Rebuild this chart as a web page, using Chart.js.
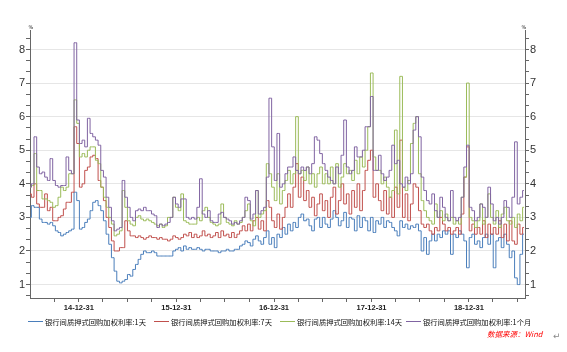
<!DOCTYPE html>
<html>
<head>
<meta charset="utf-8">
<script src="https://cdn.jsdelivr.net/npm/chart.js@4.4.0/dist/chart.umd.min.js"></script>
<style>
  html, body { margin: 0; padding: 0; background: #fff; }
</style>
</head>
<body>
<canvas id="grafico" width="567" height="352"></canvas>
<script>
// 10-day samples starting 2014-07-01
const startDate = Date.UTC(2014, 6, 1);
const stepDays = 10;
const axisDays = 1854;

const seriesNames = [
  "银行间质押式回购加权利率:1天",
  "银行间质押式回购加权利率:7天",
  "银行间质押式回购加权利率:14天",
  "银行间质押式回购加权利率:1个月"
];
const seriesColors = ["#4a7ebb", "#c0504d", "#9bbb59", "#8064a2"];

const yearEndDates = ["2014-12-31", "2015-12-31", "2016-12-31", "2017-12-31", "2018-12-31"];
const yearEndLabels = ["14-12-31", "15-12-31", "16-12-31", "17-12-31", "18-12-31"];
const minorTickDates = [
  "2014-09-30", "2015-03-31", "2015-06-30", "2015-09-30", "2016-03-31", "2016-06-30", "2016-09-30",
  "2017-03-31", "2017-06-30", "2017-09-30", "2018-03-31", "2018-06-30", "2018-09-30", "2019-03-31", "2019-06-30"
];

const rate1D = [
  3.0, 3.35, 3.3, 3.3, 2.95, 2.85, 2.85, 2.8, 2.85, 2.75,
  2.6, 2.55, 2.45, 2.5, 2.55, 2.6, 2.65, 3.75, 3.5, 2.65,
  2.7, 2.85, 2.95, 3.2, 3.45, 3.5, 3.35, 3.2, 2.9, 2.5,
  2.2, 1.8, 1.4, 1.1, 1.05, 1.1, 1.15, 1.3, 1.25, 1.45,
  1.6, 1.75, 1.9, 2.0, 1.95, 1.95, 2.0, 1.95, 1.85, 1.85,
  1.85, 1.85, 1.85, 1.85, 2.0, 2.05, 2.1, 2.0, 2.15, 2.05,
  2.1, 2.05, 2.05, 2.1, 2.05, 2.0, 2.05, 2.05, 2.0, 2.0,
  2.0, 1.95, 2.0, 2.0, 2.05, 2.0, 2.0, 2.05, 2.05, 2.15,
  2.2, 2.3, 2.25, 2.15, 2.35, 2.45, 2.3, 2.2, 2.4, 2.6,
  2.2, 2.4, 2.1, 2.5, 2.4, 2.7, 2.5, 2.8, 2.6, 2.85,
  2.7, 3.0, 3.1, 2.9, 2.95, 2.75, 2.6, 2.95, 3.0, 2.7,
  3.0, 2.8, 2.7, 2.95, 3.2, 3.0, 2.75, 2.9, 3.15, 2.7,
  3.0, 2.95, 2.6, 3.05, 2.7, 3.0, 2.9, 2.6, 3.0, 2.55,
  2.9, 2.8, 3.0, 2.7, 2.9, 2.85, 2.7, 2.6, 2.45, 2.9,
  2.7, 2.8, 2.65, 2.75, 2.7, 2.8, 2.6, 2.0, 2.4, 1.9,
  2.3, 2.5, 2.3, 2.5, 2.4, 2.6, 2.5, 2.6, 1.9, 2.5,
  2.4, 2.6, 2.5, 2.3, 1.5, 2.4, 2.5, 2.2, 2.3, 2.1,
  2.4, 2.5, 2.2, 2.5, 1.5, 2.3, 2.4, 2.1, 2.5, 2.2,
  1.8, 2.0, 1.2, 1.0, 1.9, 2.5
];

const rate7D = [
  3.7, 3.6, 4.0, 3.4, 3.3, 3.3, 3.7, 3.2, 3.3, 2.9,
  2.9, 3.0, 3.05, 3.25, 3.45, 3.45, 3.75, 5.7, 5.2, 3.9,
  4.0, 4.4, 4.5, 4.8, 4.85, 4.75, 4.1, 3.9, 3.5, 3.0,
  2.7, 2.3, 2.0, 2.0, 2.1, 2.1, 2.9, 2.6, 2.45, 2.45,
  2.4, 2.45, 2.4, 2.35, 2.4, 2.45, 2.4, 2.4, 2.35, 2.4,
  2.35, 2.35, 2.3, 2.35, 2.45, 2.4, 2.35, 2.4, 2.5, 2.45,
  2.55, 2.4, 2.5, 2.4, 2.45, 2.6, 2.45, 2.5, 2.4, 2.45,
  2.55, 2.4, 2.6, 2.45, 2.5, 2.4, 2.55, 2.4, 2.5, 2.6,
  2.75, 2.6, 2.8, 2.6, 2.9, 3.0, 2.65, 2.9, 2.6, 3.5,
  3.3, 2.9, 2.7, 3.1, 2.65, 3.0, 3.3, 3.7, 3.3, 3.9,
  4.6, 3.6, 4.2, 3.5, 3.8, 3.3, 3.6, 3.05, 3.4, 3.7,
  3.2, 3.5, 3.0, 3.6, 3.9, 3.1, 3.5, 4.0, 3.4, 3.7,
  3.1, 3.8, 3.3, 4.0, 3.2, 3.8, 4.4, 4.7, 5.0, 3.6,
  4.0, 3.5, 3.2, 3.8, 3.1, 3.6, 3.0, 3.9, 3.3, 5.3,
  3.0, 3.7, 2.9, 3.4, 4.0, 3.9, 3.2, 2.8, 2.7, 2.8,
  2.6, 2.5, 2.7, 2.6, 3.0, 2.8, 2.6, 2.7, 2.5, 2.6,
  2.7, 2.5, 3.1, 4.2, 5.1, 2.6, 2.8, 2.5, 2.7, 2.5,
  2.9, 2.4, 2.8, 2.5, 2.7, 2.5, 2.9, 2.4, 2.8, 2.3,
  2.9, 2.3, 2.2, 2.8, 2.5, 2.7
];

const rate14D = [
  3.9, 3.95, 4.9, 3.8, 3.8, 3.55, 3.55, 3.5, 3.45, 3.3,
  3.35, 3.6, 3.9, 3.8, 3.9, 4.3, 4.3, 6.5, 5.8, 4.8,
  4.9, 4.8, 5.0, 5.1, 5.1, 4.7, 4.6, 3.9, 3.6, 3.3,
  3.0, 2.8, 2.45, 2.5, 2.6, 3.8, 3.3, 2.9, 2.8, 2.75,
  3.0, 3.05, 2.95, 2.9, 2.95, 2.9, 2.85, 2.8, 2.75, 2.8,
  2.7, 2.75, 3.0, 3.0, 3.6, 3.3, 3.2, 3.7, 2.9, 2.85,
  2.8, 2.8, 2.8, 3.0, 2.9, 3.2, 3.3, 3.0, 2.85, 2.8,
  2.75, 2.8, 3.4, 3.0, 2.85, 2.8, 2.75, 2.9, 2.8, 2.85,
  3.0, 3.2, 3.4, 2.9, 2.75, 3.8, 3.0, 3.1, 3.2, 4.6,
  4.3, 3.9, 3.5, 4.3, 3.4, 3.8, 4.1, 4.4, 4.0, 4.3,
  6.0, 4.3, 4.4, 4.1, 4.5, 4.0, 4.3, 3.9, 4.3, 4.5,
  4.0, 4.3, 4.0, 4.5, 4.0, 4.6, 3.9, 4.2, 4.6, 4.3,
  4.4, 4.1, 4.7, 4.3, 4.8, 4.5, 5.0, 5.7, 7.3, 4.8,
  4.4, 4.4, 4.0, 4.2, 3.9, 3.6, 3.8, 5.6, 3.7, 7.2,
  3.9, 3.8, 4.1, 5.2, 5.8, 6.0, 4.3, 3.5, 3.2, 3.0,
  2.9, 2.8, 3.4, 3.0, 3.2, 2.9, 3.1, 2.9, 3.0, 2.8,
  2.9, 2.8, 3.6, 4.2, 7.0, 3.0, 2.9, 2.7, 2.9, 3.4,
  2.8, 3.0, 3.7, 3.0, 2.8, 3.2, 2.7, 3.1, 3.3, 2.9,
  2.8, 3.0, 2.7, 3.1, 2.9, 3.3
];

const rate1M = [
  3.9, 4.0, 5.4, 4.5, 4.3, 4.35, 4.2, 4.1, 4.75, 4.1,
  3.95, 3.9, 3.95, 3.95, 4.8, 4.4, 4.3, 8.2, 5.9, 5.2,
  5.3, 5.1, 5.95, 5.5, 5.4, 5.3, 5.15, 4.4, 4.2, 3.6,
  3.3, 2.9, 2.6, 2.65, 2.7, 4.1, 3.6, 3.3, 3.0, 2.9,
  3.2, 3.25, 3.2, 3.3, 3.2, 3.2, 3.1, 3.05, 2.7, 2.8,
  2.75, 2.8, 2.85, 3.0, 3.6, 3.4, 3.3, 3.55, 3.55, 3.0,
  2.95, 3.0, 2.95, 3.3, 4.15, 3.1, 3.0, 3.2, 2.9, 2.85,
  2.85, 3.1, 3.15, 3.0, 2.95, 2.9, 2.8, 2.85, 2.8, 2.9,
  3.0, 3.6, 3.5, 2.95, 3.1, 3.8, 3.1, 3.2, 3.3, 4.2,
  6.55, 5.1, 4.1, 5.5, 3.9, 4.0, 4.3, 4.5, 4.5, 4.8,
  4.4, 4.3, 4.5, 4.4, 4.5, 4.3, 4.6, 5.4, 5.3, 4.9,
  4.6, 4.4, 4.2, 4.1, 4.0, 4.5, 4.3, 4.85, 5.9, 4.5,
  4.3, 4.4, 5.1, 4.8, 4.8, 5.0, 5.7, 5.7, 6.6, 4.4,
  4.4, 4.85, 4.3, 4.1, 4.2, 4.4, 5.15, 4.6, 4.7, 4.0,
  3.9, 4.2, 4.0, 4.3, 5.6, 6.0, 5.4, 4.2, 3.8, 3.5,
  3.4, 3.7, 3.2, 3.0, 3.6, 3.3, 3.0, 2.9, 3.8, 3.0,
  2.9, 3.0, 3.6, 4.5, 5.15, 3.3, 3.2, 2.9, 3.0, 3.4,
  3.3, 3.0, 3.9, 3.4, 2.9, 3.0, 2.8, 3.0, 3.5, 3.3,
  3.0, 3.6, 5.25, 3.4, 3.6, 3.8
];

const dayOf = s => (Date.parse(s) - startDate) / 864e5;
const toPoints = arr => arr.map((v, i) => ({ x: i * stepDays, y: v }));

const labelPorDia = {};
yearEndDates.forEach((d, i) => { labelPorDia[dayOf(d)] = yearEndLabels[i]; });
const xTickValues = yearEndDates.concat(minorTickDates).map(dayOf).sort((a, b) => a - b);

const yTickValues = [];
for (let k = 2; k <= 25; k++) yTickValues.push(k / 3);
const isInteger = v => Math.abs(v - Math.round(v)) < 1e-6;

const legendaRodape = {
  id: "legendaRodape",
  afterDraw(chart) {
    const c = chart.ctx;
    c.save();
    c.font = '7.3px "Noto Sans CJK SC"';
    c.textBaseline = "middle";
    const lineW = 15, gapText = 2, itemSpacing = 126;
    const y = 321;
    chart.data.datasets.forEach((ds, i) => {
      const x = 28 + i * itemSpacing;
      c.strokeStyle = ds.borderColor;
      c.lineWidth = 1;
      c.beginPath();
      c.moveTo(x, y + 0.5);
      c.lineTo(x + lineW, y + 0.5);
      c.stroke();
      c.fillStyle = "#111";
      c.fillText(ds.label, x + lineW + gapText, y + 1);
    });

    c.font = 'italic 7.5px "Noto Sans CJK SC"';
    c.fillStyle = "#ff0000";
    c.fillText("数据来源：Wind", 487, 334);

    c.font = '9px "DejaVu Sans"';
    c.fillStyle = "#888";
    c.fillText("↵", 553, 337);

    c.font = '5px "DejaVu Sans"';
    c.fillStyle = "#222";
    c.textAlign = "center";
    c.fillText("%", chart.chartArea.left + 1, 28);
    c.fillText("%", chart.chartArea.right - 1, 28);
    c.restore();
  }
};

function yAxis(position, width) {
  return {
    position: position,
    min: 0.6,
    max: 8.58,
    afterFit: s => { s.width = width; },
    afterBuildTicks: s => { s.ticks = yTickValues.map(v => ({ value: v })); },
    ticks: {
      autoSkip: false,
      padding: 1,
      color: "#333",
      font: { family: "Liberation Sans", size: 11 },
      callback: v => isInteger(v) ? String(Math.round(v)) : ""
    },
    grid: {
      drawOnChartArea: position === "left",
      tickLength: 4,
      lineWidth: 1,
      color: ctx => (ctx.tick && isInteger(ctx.tick.value)) ? "#e6e6e6" : "rgba(0,0,0,0)",
      tickColor: "#666"
    },
    border: { color: "#666", width: 1 }
  };
}

const datasets = [rate1D, rate7D, rate14D, rate1M].map((arr, i) => ({
  label: seriesNames[i],
  data: toPoints(arr),
  borderColor: seriesColors[i],
  backgroundColor: seriesColors[i],
  stepped: "middle",
  order: 3 - i
}));

new Chart(document.getElementById("grafico"), {
  type: "line",
  data: { datasets: datasets },
  options: {
    responsive: false,
    animation: false,
    devicePixelRatio: 1,
    layout: { padding: { top: 30, left: 0, right: 0, bottom: 0 } },
    elements: { point: { radius: 0 }, line: { borderWidth: 1, tension: 0 } },
    plugins: { legend: { display: false }, tooltip: { enabled: false } },
    scales: {
      x: {
        type: "linear",
        min: 0,
        max: axisDays,
        afterFit: s => { s.height = 54; },
        afterBuildTicks: s => { s.ticks = xTickValues.map(v => ({ value: v })); },
        ticks: {
          autoSkip: false,
          maxRotation: 0,
          padding: 1,
          color: "#222",
          font: { family: "Liberation Sans", size: 7.5, weight: "bold" },
          callback: v => labelPorDia[v] || ""
        },
        grid: { drawOnChartArea: false, tickLength: 4, tickColor: "#666" },
        border: { color: "#666", width: 1 }
      },
      y: yAxis("left", 30),
      y2: yAxis("right", 42)
    }
  },
  plugins: [legendaRodape]
});
</script>
</body>
</html>
